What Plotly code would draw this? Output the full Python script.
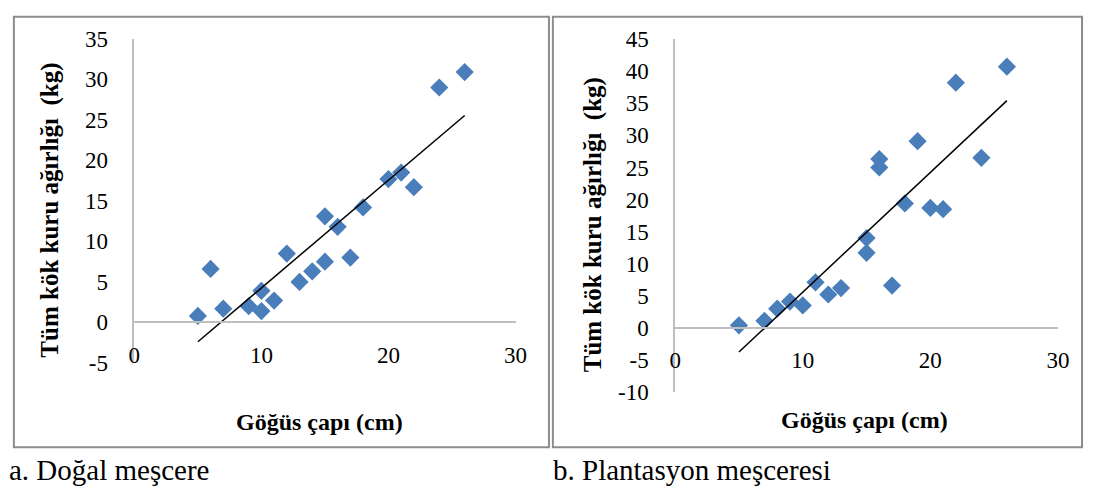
import numpy as np
import plotly.graph_objects as go

# ---- data ----
x_a = [5, 6, 7, 9, 10, 10, 11, 12, 13, 14, 15, 15, 16, 17, 18, 20, 21, 22, 24, 26]
y_a = [0.8, 6.6, 1.7, 2.0, 3.9, 1.4, 2.7, 8.5, 5.0, 6.3, 7.5, 13.1, 11.8, 8.0, 14.2, 17.7, 18.5, 16.7, 29.0, 30.9]

x_b = [5, 7, 8, 9, 10, 11, 12, 13, 15, 15, 16, 16, 17, 18, 19, 20, 21, 22, 24, 26]
y_b = [0.4, 1.1, 3.0, 4.1, 3.5, 7.1, 5.2, 6.2, 14.0, 11.7, 26.3, 25.0, 6.6, 19.4, 29.1, 18.7, 18.5, 38.2, 26.5, 40.7]

xticks = [0, 10, 20, 30]
yticks_a = [-5, 0, 5, 10, 15, 20, 25, 30, 35]
yticks_b = [-10, -5, 0, 5, 10, 15, 20, 25, 30, 35, 40, 45]

x_title = "Göğüs çapı (cm)"
y_title = "Tüm kök kuru ağırlığı\u00a0 (kg)"
captions = ["a. Doğal meşcere", "b. Plantasyon meşceresi"]

# ---- layout geometry ----
W, H = 1097, 502
SERIF = "Liberation Serif"
MARK = "#4A7EBB"
AXC = "#BFBFBF"

panels = [
    dict(x=x_a, y=y_a, yt=yticks_a, xd=(130.5, 518), yd=(28.3, 369.3),
         ytitle_x=45, xtitle=(319, 431), box=(8, 5, 552, 458), cap_x=1),
    dict(x=x_b, y=y_b, yt=yticks_b, xd=(680.3, 1069.5), yd=(28.5, 400),
         ytitle_x=597, xtitle=(873, 429), box=(556, 5, 1094, 458), cap_x=554),
]

fig = go.Figure()
shapes, annotations = [], []

for i, p in enumerate(panels, start=1):
    xa = "x" if i == 1 else f"x{i}"
    ya = "y" if i == 1 else f"y{i}"
    xdom = [p["xd"][0] / W, p["xd"][1] / W]
    ydom = [1 - p["yd"][1] / H, 1 - p["yd"][0] / H]
    ymin, ymax = min(p["yt"]), max(p["yt"])
    frac0 = (0 - ymin) / (ymax - ymin)
    xpos = ydom[0] + frac0 * (ydom[1] - ydom[0])

    fig.add_trace(go.Scatter(
        x=p["x"], y=p["y"], mode="markers", xaxis=xa, yaxis=ya,
        marker=dict(symbol="diamond", size=14, color=MARK, line=dict(width=0)),
        showlegend=False, hoverinfo="x+y"))

    slope, inter = np.polyfit(p["x"], p["y"], 1)
    xs = [min(p["x"]), max(p["x"])]
    fig.add_trace(go.Scatter(
        x=xs, y=[slope * v + inter for v in xs], mode="lines", xaxis=xa, yaxis=ya,
        line=dict(color="black", width=1.5), showlegend=False, hoverinfo="skip"))

    xkey = "xaxis" if i == 1 else f"xaxis{i}"
    ykey = "yaxis" if i == 1 else f"yaxis{i}"
    fig.update_layout(**{
        xkey: dict(domain=xdom, range=[0, 30], tickvals=xticks,
                   ticktext=[str(v) for v in xticks], anchor="free",
                   position=xpos, showline=True, linecolor=AXC, linewidth=1.5,
                   showgrid=False, zeroline=False, ticks="",
                   ticklabelstandoff=12,
                   tickfont=dict(family=SERIF, size=23, color="black")),
        ykey: dict(domain=ydom, range=[ymin, ymax], tickvals=p["yt"],
                   ticktext=[str(v) for v in p["yt"]], anchor=xa,
                   showline=True, linecolor=AXC, linewidth=1.5,
                   showgrid=False, zeroline=False, ticks="",
                   ticklabelstandoff=20,
                   tickfont=dict(family=SERIF, size=23, color="black")),
    })

    bx0, by0, bx1, by1 = p["box"]
    shapes.append(dict(type="rect", xref="paper", yref="paper",
                       x0=bx0 / W, x1=bx1 / W, y0=1 - by1 / H, y1=1 - by0 / H,
                       line=dict(color="#8C8C8C", width=2), layer="below"))

    annotations.append(dict(text=f"<b>{y_title}</b>", xref="paper", yref="paper",
                            x=p["ytitle_x"] / W, y=1 - ((p["yd"][0] + p["yd"][1]) / 2 + 10) / H,
                            textangle=-90, showarrow=False, xanchor="center", yanchor="middle",
                            font=dict(family=SERIF, size=25, color="black")))
    annotations.append(dict(text=f"<b>{x_title}</b>", xref="paper", yref="paper",
                            x=p["xtitle"][0] / W, y=1 - p["xtitle"][1] / H,
                            showarrow=False, xanchor="center", yanchor="middle",
                            font=dict(family=SERIF, size=24, color="black")))
    annotations.append(dict(text=captions[i - 1], xref="paper", yref="paper",
                            x=p["cap_x"] / W, y=1 - 482 / H,
                            showarrow=False, xanchor="left", yanchor="middle",
                            font=dict(family=SERIF, size=29, color="black")))

fig.update_layout(width=W, height=H, margin=dict(l=0, r=0, t=0, b=0),
                  paper_bgcolor="white", plot_bgcolor="white",
                  shapes=shapes, annotations=annotations)

fig.write_html("out.html", config={"displayModeBar": False},
               post_script="document.body.style.margin='0';")
